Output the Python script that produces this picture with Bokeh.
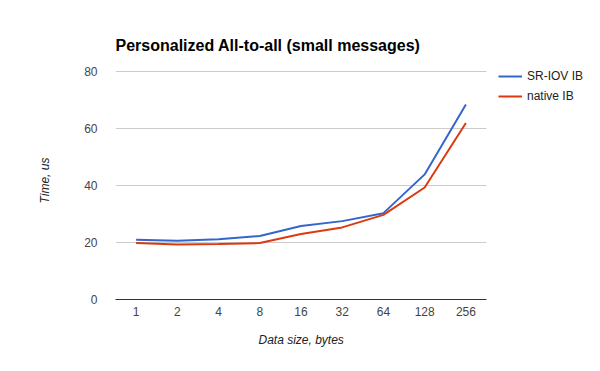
from bokeh.plotting import figure
from bokeh.models import Range1d, FixedTicker, Legend, LegendItem, Title
from bokeh.embed import file_html
from bokeh.resources import INLINE

categories = ["1", "2", "4", "8", "16", "32", "64", "128", "256"]
sriov_ib = [21.0, 20.6, 21.1, 22.3, 25.8, 27.5, 30.3, 43.9, 68.4]
native_ib = [19.8, 19.3, 19.5, 19.8, 23.0, 25.3, 29.7, 39.3, 61.9]
y_ticks = [0, 20, 40, 60, 80]

FONT = "Liberation Sans"

xs = list(range(len(categories)))
x_lo = -0.5
x_hi = len(categories) - 0.5
px_per_cat = 371 / len(categories)      # plot area width / number of categories
x_end = x_lo + 485 / px_per_cat          # frame extends to the right edge (room for legend)
y_max = y_ticks[-1]
y_end = y_max + 10 / (228 / y_max)       # frame extends 10px above the top gridline

p = figure(width=600, height=371, output_backend="svg", toolbar_location=None,
           x_range=Range1d(x_lo, x_end), y_range=Range1d(0, y_end),
           min_border_left=115, min_border_right=0, min_border_top=61, min_border_bottom=72)
p.outline_line_color = None
p.background_fill_color = "white"
p.border_fill_color = "white"

p.title.text = "Personalized All-to-all (small messages)"
p.title.text_font = FONT
p.title.text_font_size = "16px"
p.title.text_font_style = "bold"
p.title.text_color = "#000000"
p.title.align = "left"
p.title.standoff = 16

# horizontal gridlines restricted to the plot area
p.segment(x0=[x_lo] * (len(y_ticks) - 1), x1=[x_hi] * (len(y_ticks) - 1),
          y0=y_ticks[1:], y1=y_ticks[1:], line_color="#cccccc", line_width=1)

r1 = p.line(xs, sriov_ib, line_color="#3366cc", line_width=2)
r2 = p.line(xs, native_ib, line_color="#dc3912", line_width=2)

p.xgrid.grid_line_color = None
p.ygrid.grid_line_color = None

p.yaxis.ticker = FixedTicker(ticks=y_ticks)
p.yaxis.axis_line_color = None
p.yaxis.major_tick_line_color = None
p.yaxis.minor_tick_line_color = None
p.yaxis.major_label_standoff = 12
p.yaxis.major_label_text_font = FONT
p.yaxis.major_label_text_font_size = "12px"
p.yaxis.major_label_text_color = "#444444"
p.yaxis.axis_label = "Time, us"
p.yaxis.axis_label_text_font = FONT
p.yaxis.axis_label_text_font_size = "12px"
p.yaxis.axis_label_text_font_style = "italic"
p.yaxis.axis_label_text_color = "#222222"
p.yaxis.axis_label_standoff = 29

p.xaxis.ticker = FixedTicker(ticks=xs)
p.xaxis.major_label_overrides = {i: c for i, c in zip(xs, categories)}
p.xaxis.bounds = (x_lo, x_hi)
p.xaxis.axis_line_color = "#333333"
p.xaxis.major_tick_line_color = None
p.xaxis.minor_tick_line_color = None
p.xaxis.major_tick_out = 0
p.xaxis.minor_tick_out = 0
p.xaxis.major_label_standoff = 7
p.xaxis.major_label_text_font = FONT
p.xaxis.major_label_text_font_size = "12px"
p.xaxis.major_label_text_color = "#444444"

# x-axis title centred under the plot area (not under the wider frame)
x_title = Title(text="Data size, bytes", align="left", offset=143, standoff=25,
                text_font=FONT, text_font_size="12px", text_font_style="italic",
                text_color="#222222")
p.add_layout(x_title, "below")

legend = Legend(items=[LegendItem(label="SR-IOV IB", renderers=[r1]),
                       LegendItem(label="native IB", renderers=[r2])],
                location=(383, 193), padding=0, margin=0, spacing=0,
                glyph_width=24, glyph_height=20, label_height=20, label_standoff=5,
                label_text_font=FONT, label_text_font_size="12px", label_text_color="#222222",
                border_line_color=None, background_fill_alpha=0)
p.add_layout(legend)

open("out.html", "w").write(file_html(p, INLINE))
